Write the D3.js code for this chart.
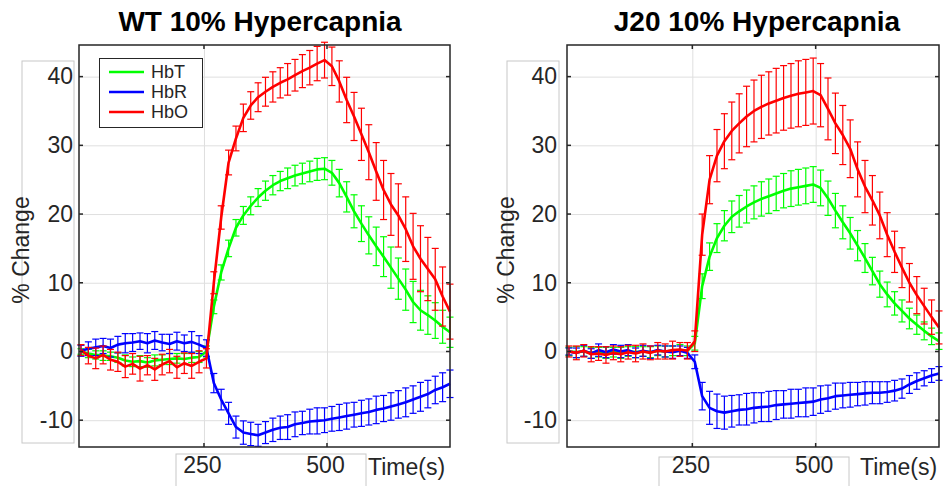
<!DOCTYPE html>
<html>
<head>
<meta charset="utf-8">
<script src="https://cdn.jsdelivr.net/npm/d3@7"></script>
<style>
  body { margin: 0; background: #fff; }
  svg { display: block; font-family: "Liberation Sans", Arial, sans-serif; }
</style>
</head>
<body>
<svg id="chart" width="947" height="486"></svg>
<script>
// sample times (s), one sample every 15 s
var time = d3.range(0, 751, 15);

// WT panel
var wtHbT = [0, -0.3, -0.5, -0.6, -0.7, -0.9, -1.3, -1.5, -1.4, -1.6, -1.3, -1.2, -1.1, -1.0, -1.1, -0.9, -0.8, 0.0,
  6.5, 11.5, 15.0, 18.0, 19.8, 21.2, 22.4, 23.4, 24.2, 24.8, 25.2, 25.6, 25.9, 26.2, 26.5, 26.6,
  26.0, 24.5, 22.5, 20.4, 18.6, 16.9, 15.3, 13.8, 12.2, 10.6, 9.0, 7.2, 6.0, 5.3, 4.5, 3.6, 2.8];
var wtHbTErr = [0.4, 0.6, 0.6, 0.7, 0.6, 0.7, 0.8, 0.7, 0.8, 0.7, 0.8, 0.7, 0.8, 0.7, 0.8, 0.7, 0.8, 0.8,
  1.0, 1.1, 1.2, 1.2, 1.3, 1.3, 1.3, 1.4, 1.4, 1.4, 1.5, 1.5, 1.5, 1.5, 1.6, 1.6,
  1.8, 2.0, 2.2, 2.4, 2.6, 2.7, 2.8, 2.9, 3.0, 3.0, 3.0, 3.0, 2.9, 2.8, 2.6, 2.4, 2.2];
var wtHbR = [0.1, 0.4, 0.6, 0.8, 0.5, 1.0, 1.2, 1.3, 1.5, 1.2, 1.6, 1.3, 1.1, 1.5, 1.2, 1.4, 1.0, 0.5,
  -4.6, -7.0, -9.0, -11.0, -11.8, -12.0, -12.2, -11.8, -11.4, -11.1, -11.0, -10.6, -10.4, -10.2, -10.1, -10.0,
  -9.8, -9.6, -9.4, -9.2, -9.0, -8.8, -8.5, -8.3, -8.0, -7.7, -7.4, -7.0, -6.6, -6.2, -5.6, -5.2, -4.7];
var wtHbRErr = [0.8, 1.0, 1.2, 1.1, 1.3, 1.2, 1.4, 1.3, 1.2, 1.4, 1.3, 1.2, 1.4, 1.3, 1.2, 1.5, 1.3, 1.2,
  1.4, 1.5, 1.6, 1.6, 1.7, 1.7, 1.6, 1.6, 1.7, 1.7, 1.8, 1.8, 1.7, 1.8, 1.9, 1.8,
  1.8, 1.9, 1.9, 1.8, 1.9, 1.9, 2.0, 1.9, 2.0, 2.0, 2.1, 2.0, 2.1, 2.0, 2.0, 2.1, 2.0];
var wtHbO = [0.2, -0.6, -1.0, -0.5, -1.2, -1.5, -2.2, -1.8, -2.5, -2.0, -2.6, -1.9, -1.4, -2.3, -1.7, -2.1, -1.5, -1.0,
  10.0, 19.5, 27.5, 31.0, 34.0, 35.8, 37.0, 37.8, 38.5, 39.1, 39.6, 40.2, 40.8, 41.3, 41.9, 42.4,
  41.5, 39.3, 36.6, 34.2, 31.6, 29.0, 26.2, 23.5, 21.4, 19.8, 17.8, 15.3, 13.5, 12.0, 10.5, 8.0, 5.8];
var wtHbOErr = [0.8, 1.2, 1.5, 1.3, 1.5, 1.4, 1.6, 1.5, 1.8, 1.4, 1.6, 1.5, 1.7, 1.6, 1.5, 1.8, 1.6, 1.4,
  1.6, 1.7, 1.8, 1.8, 2.0, 2.0, 2.1, 2.1, 2.2, 2.2, 2.3, 2.3, 2.4, 2.5, 2.5, 2.6,
  2.8, 3.0, 3.3, 3.5, 3.8, 4.0, 4.2, 4.3, 4.5, 4.6, 4.7, 4.8, 4.8, 4.6, 4.5, 4.3, 4.0];

// J20 panel
var j20HbT = [0, -0.1, 0.0, -0.2, -0.1, -0.2, -0.1, -0.2, 0.0, -0.1, 0.0, -0.1, 0.1, 0.0, 0.1, 0.2, 0.1, 1.2,
  9.5, 13.8, 16.5, 18.3, 19.6, 20.4, 21.1, 21.7, 22.2, 22.6, 23.0, 23.4, 23.7, 23.9, 24.1, 24.3,
  23.8, 22.3, 20.5, 18.8, 17.2, 15.4, 13.6, 11.7, 9.8, 8.3, 7.0, 5.9, 4.8, 3.9, 3.0, 2.2, 1.5];
var j20HbTErr = [0.6, 0.8, 0.7, 0.8, 0.7, 0.8, 0.7, 0.8, 0.7, 0.8, 0.7, 0.8, 0.7, 0.8, 0.7, 0.8, 0.7, 1.0,
  1.8, 2.0, 2.1, 2.2, 2.3, 2.3, 2.4, 2.4, 2.5, 2.5, 2.5, 2.5, 2.6, 2.6, 2.6, 2.6,
  2.6, 2.5, 2.5, 2.4, 2.3, 2.2, 2.1, 2.0, 1.9, 1.8, 1.7, 1.6, 1.5, 1.4, 1.3, 1.2, 1.2];
var j20HbR = [0, -0.2, 0.1, -0.3, 0.2, -0.1, 0.3, 0.0, 0.2, -0.2, 0.1, -0.1, 0.2, 0.0, -0.1, 0.1, -0.2, -1.5,
  -6.5, -8.2, -8.7, -8.9, -8.7, -8.5, -8.4, -8.2, -8.1, -8.0, -7.8, -7.7, -7.6, -7.5, -7.4, -7.3,
  -7.0, -6.8, -6.5, -6.4, -6.3, -6.2, -6.1, -6.0, -6.0, -5.9, -5.7, -5.4, -4.8, -4.3, -3.9, -3.5, -3.2];
var j20HbRErr = [0.5, 0.7, 0.8, 0.7, 0.9, 0.8, 0.7, 0.9, 0.8, 0.7, 0.8, 0.9, 0.7, 0.8, 0.9, 0.7, 0.8, 1.0,
  2.0, 2.4, 2.5, 2.4, 2.3, 2.2, 2.3, 2.2, 2.1, 2.2, 2.1, 2.0, 2.1, 2.0, 2.1, 2.0,
  2.0, 1.9, 1.9, 1.8, 1.8, 1.7, 1.7, 1.6, 1.6, 1.5, 1.5, 1.4, 1.3, 1.2, 1.1, 1.0, 1.0];
var j20HbO = [0, -0.2, 0.1, -0.4, -0.3, -0.5, -0.2, -0.4, -0.1, -0.3, 0.0, -0.2, 0.1, 0.0, 0.2, 0.3, 0.1, 1.5,
  17.0, 25.0, 28.5, 30.6, 32.1, 33.2, 34.2, 35.0, 35.6, 36.1, 36.5, 36.9, 37.2, 37.5, 37.7, 37.9,
  37.3, 35.3, 33.2, 31.5, 29.5, 26.5, 24.0, 22.0, 19.8, 17.0, 14.5, 12.2, 10.0, 8.2, 6.6, 5.0, 3.5];
var j20HbOErr = [0.8, 1.0, 0.9, 1.1, 1.0, 1.2, 1.0, 1.1, 1.0, 1.2, 1.1, 1.0, 1.2, 1.1, 1.3, 1.0, 1.2, 1.5,
  3.0, 3.5, 3.8, 4.0, 4.2, 4.3, 4.4, 4.5, 4.6, 4.6, 4.7, 4.7, 4.7, 4.8, 4.8, 4.8,
  4.6, 4.5, 4.4, 4.3, 4.2, 4.0, 3.8, 3.6, 3.4, 3.2, 3.0, 2.9, 2.8, 2.7, 2.6, 2.5, 2.4];

var seriesNames = ["HbT", "HbR", "HbO"];
var seriesColors = ["#00ff00", "#0000ff", "#ff0000"];
var yTicks = [-10, 0, 10, 20, 30, 40];
var xTicks = [250, 500];

var svg = d3.select("#chart");
var axisColor = "#262626";

function drawPanel(p) {
    var x = d3.scaleLinear().domain([-4, 750]).range([p.left, p.right]);
    var y = d3.scaleLinear().domain([-13.9, 44.6]).range([447, 45]);
    var g = svg.append("g");

    // label background boxes
    g.append("rect").attr("x", p.yBox[0]).attr("y", 61).attr("width", p.yBox[1] - p.yBox[0]).attr("height", 382)
        .attr("fill", "#fff").attr("stroke", "#c8c8c8").attr("stroke-width", 1);
    g.append("rect").attr("x", p.xBox[0]).attr("y", p.xBoxTop).attr("width", p.xBox[1] - p.xBox[0]).attr("height", 60)
        .attr("fill", "#fff").attr("stroke", "#c8c8c8").attr("stroke-width", 1);

    // grid
    g.append("g").attr("transform", "translate(" + p.left + ",0)")
        .call(d3.axisLeft(y).tickValues(yTicks).tickSize(-(p.right - p.left)).tickFormat(""))
        .call(function (s) { s.select(".domain").remove(); })
        .selectAll("line").attr("stroke", "#dfdfdf").attr("stroke-width", 1);
    g.append("g").attr("transform", "translate(0,447)")
        .call(d3.axisBottom(x).tickValues(xTicks).tickSize(-402).tickFormat(""))
        .call(function (s) { s.select(".domain").remove(); })
        .selectAll("line").attr("stroke", "#dfdfdf").attr("stroke-width", 1);

    // series: line + error bars
    p.data.forEach(function (ser, i) {
        var pts = time.map(function (t, k) { return { t: t, v: ser.v[k], e: ser.e[k] }; });
        var sg = g.append("g").attr("stroke", seriesColors[i]).attr("fill", "none");
        var eb = sg.selectAll(".eb").data(pts).enter().append("g").attr("class", "eb");
        eb.append("line")
            .attr("x1", function (d) { return x(d.t); }).attr("x2", function (d) { return x(d.t); })
            .attr("y1", function (d) { return y(d.v - d.e); }).attr("y2", function (d) { return y(d.v + d.e); })
            .attr("stroke-width", 1.2);
        [-1, 1].forEach(function (sgn) {
            eb.append("line")
                .attr("x1", function (d) { return x(d.t) - 3.5; }).attr("x2", function (d) { return x(d.t) + 3.5; })
                .attr("y1", function (d) { return y(d.v + sgn * d.e); }).attr("y2", function (d) { return y(d.v + sgn * d.e); })
                .attr("stroke-width", 1.2);
        });
        sg.append("path").datum(pts)
            .attr("stroke-width", 2.6)
            .attr("stroke-linejoin", "round")
            .attr("d", d3.line().x(function (d) { return x(d.t); }).y(function (d) { return y(d.v); }));
    });

    // box + inner ticks
    g.append("rect").attr("x", p.left).attr("y", 45).attr("width", p.right - p.left).attr("height", 402)
        .attr("fill", "none").attr("stroke", axisColor).attr("stroke-width", 1.5);
    xTicks.forEach(function (t) {
        g.append("line").attr("x1", x(t)).attr("x2", x(t)).attr("y1", 447).attr("y2", 443).attr("stroke", axisColor).attr("stroke-width", 1.5);
        g.append("line").attr("x1", x(t)).attr("x2", x(t)).attr("y1", 45).attr("y2", 49).attr("stroke", axisColor).attr("stroke-width", 1.5);
    });
    yTicks.forEach(function (t) {
        g.append("line").attr("x1", p.left).attr("x2", p.left + 4).attr("y1", y(t)).attr("y2", y(t)).attr("stroke", axisColor).attr("stroke-width", 1.5);
        g.append("line").attr("x1", p.right).attr("x2", p.right - 4).attr("y1", y(t)).attr("y2", y(t)).attr("stroke", axisColor).attr("stroke-width", 1.5);
    });

    // tick labels (plain hyphen minus, as in the original)
    var ya = g.append("g").attr("transform", "translate(" + p.left + ",0)")
        .call(d3.axisLeft(y).tickValues(yTicks).tickSize(0).tickPadding(p.left - p.yLabelRight)
            .tickFormat(function (d) { return String(d); }));
    ya.select(".domain").remove();
    ya.selectAll("text").attr("font-size", 23).attr("font-family", "Liberation Sans, Arial, sans-serif").attr("fill", axisColor);

    var xa = g.append("g").attr("transform", "translate(0,447)")
        .call(d3.axisBottom(x).tickValues(xTicks).tickSize(0).tickPadding(10));
    xa.select(".domain").remove();
    xa.selectAll("text").attr("font-size", 23).attr("font-family", "Liberation Sans, Arial, sans-serif").attr("fill", axisColor)
        .attr("dx", -2);

    g.append("text").attr("x", p.timeX).attr("y", 475).attr("font-size", 23).attr("fill", axisColor).text("Time(s)");
    g.append("text").attr("transform", "translate(" + p.yTitleX + ",250) rotate(-90)")
        .attr("text-anchor", "middle").attr("font-size", 23).attr("fill", axisColor).text("% Change");

    g.append("text").attr("x", p.titleX).attr("y", 31).attr("text-anchor", "middle")
        .attr("font-size", 28).attr("font-weight", "bold").attr("fill", "#000").text(p.title);

    if (p.legend) {
        var lg = g.append("g");
        lg.append("rect").attr("x", 99.5).attr("y", 58.5).attr("width", 103).attr("height", 69)
            .attr("fill", "#fff").attr("stroke", axisColor).attr("stroke-width", 1);
        seriesNames.forEach(function (n, i) {
            var yy = 72 + i * 20;
            lg.append("line").attr("x1", 109).attr("x2", 144).attr("y1", yy).attr("y2", yy)
                .attr("stroke", seriesColors[i]).attr("stroke-width", 2.6);
            lg.append("text").attr("x", 151).attr("y", yy).attr("dy", "0.35em")
                .attr("font-size", 18).attr("fill", axisColor).text(n);
        });
    }
}

drawPanel({
    title: "WT 10% Hypercapnia", titleX: 260, left: 79, right: 450,
    yBox: [22, 74], xBox: [176, 366], xBoxTop: 454, yLabelRight: 73, yTitleX: 29, timeX: 368,
    legend: true,
    data: [{ v: wtHbT, e: wtHbTErr }, { v: wtHbR, e: wtHbRErr }, { v: wtHbO, e: wtHbOErr }]
});
drawPanel({
    title: "J20 10% Hypercapnia", titleX: 757, left: 567, right: 939,
    yBox: [507, 559], xBox: [659, 849], xBoxTop: 457, yLabelRight: 557, yTitleX: 514, timeX: 860,
    legend: false,
    data: [{ v: j20HbT, e: j20HbTErr }, { v: j20HbR, e: j20HbRErr }, { v: j20HbO, e: j20HbOErr }]
});
</script>
</body>
</html>
